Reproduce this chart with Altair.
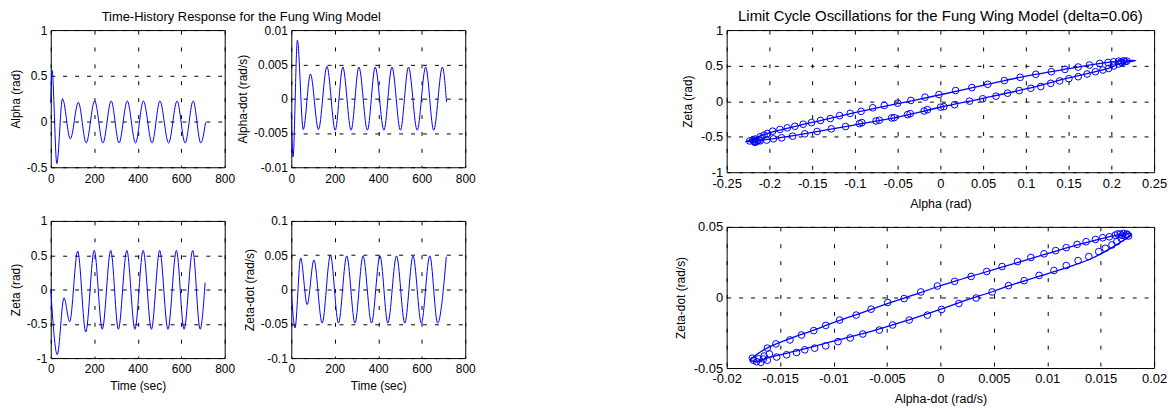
import altair as alt
import pandas as pd

FONT = "Liberation Sans"
BLUE = "#0000ff"

# ---------------- time histories ----------------
alpha_t = [0, 6, 28, 54, 90, 127, 163, 202, 240, 278, 314, 352, 390, 426, 466, 502, 542, 581, 618, 655, 690, 712]
alpha_v = [0.20, 0.56, -0.46, 0.25, -0.19, 0.21, -0.235, 0.225, -0.235, 0.225, -0.235, 0.225, -0.235, 0.225,
           -0.235, 0.225, -0.235, 0.225, -0.235, 0.225, -0.235, -0.01]

alphadot_t = [0, 8, 28, 55, 88, 125, 164, 202, 237, 275, 311, 350, 386, 426, 463, 502, 539, 579, 618, 655, 695, 714]
alphadot_v = [-0.002, -0.0085, 0.0085, -0.0045, 0.0036, -0.0045, 0.0047, -0.0046, 0.0046, -0.0046, 0.0046,
              -0.0046, 0.0046, -0.0046, 0.0046, -0.0046, 0.0046, -0.0046, 0.0046, -0.0046, 0.0046, -0.0005]

zeta_t = [0, 30, 61, 87, 124, 161, 200, 237, 276, 311, 350, 387, 425, 463, 501, 539, 578, 613, 653, 687, 710]
zeta_v = [0.0, -0.95, -0.12, -0.47, 0.56, -0.62, 0.57, -0.58, 0.57, -0.58, 0.57, -0.58, 0.57, -0.58, 0.57,
          -0.58, 0.57, -0.58, 0.57, -0.58, 0.10]

zetadot_t = [0, 17, 43, 73, 104, 142, 180, 217, 255, 293, 330, 369, 408, 444, 484, 522, 560, 598, 637, 673, 713]
zetadot_v = [0.0, -0.056, 0.046, -0.022, 0.043, -0.049, 0.050, -0.049, 0.049, -0.049, 0.049, -0.049, 0.049,
             -0.049, 0.049, -0.049, 0.049, -0.049, 0.049, -0.049, 0.048]

time_ticks = [0, 200, 400, 600, 800]

# ---------------- limit cycle: alpha vs zeta ----------------
lc1_line_x = [-0.228, -0.2, -0.15, -0.1, -0.05, 0.0, 0.05, 0.1, 0.15, 0.2, 0.2286,
              0.21, 0.2, 0.15, 0.1, 0.05, 0.0, -0.05, -0.1, -0.15, -0.2, -0.228]
lc1_line_y = [-0.572, -0.445, -0.30, -0.16, -0.035, 0.090, 0.222, 0.352, 0.456, 0.552, 0.572,
              0.53, 0.475, 0.326, 0.172, 0.04, -0.086, -0.225, -0.335, -0.44, -0.535, -0.572]

lc1_pts_x = [-0.2167, -0.2109, -0.2063, -0.2023, -0.1962, -0.1877, -0.1791, -0.1702, -0.1605, -0.1508,
             -0.1403, -0.1287, -0.1179, -0.1055, -0.0927, -0.0791, -0.0656, -0.0500, -0.0345, -0.0179,
             -0.0016, 0.0178, 0.0368, 0.0554, 0.0748, 0.0934, 0.1116, 0.1298, 0.1457, 0.1612, 0.1744,
             0.1864, 0.1961, 0.2027, 0.2085, 0.2143, 0.2182,
             -0.2156, -0.2109, -0.2031, -0.1953, -0.1857, -0.1729, -0.1586, -0.1442, -0.1276, -0.1109,
             -0.0947, -0.0919, -0.0752, -0.0714, -0.0570, -0.0540, -0.0384, -0.0353, -0.0190, -0.0151,
             0.0003, 0.0040, 0.0166, 0.0341, 0.0495, 0.0651, 0.0786, 0.0922, 0.1058, 0.1174, 0.1291,
             0.1395, 0.1503, 0.1612, 0.1716, 0.1814, 0.1902, 0.1969, 0.2027, 0.2085, 0.2123,
             -0.2230, -0.2195, -0.2180, -0.2140, -0.2120, -0.2170, 0.2160, 0.2110]
lc1_pts_y = [-0.534, -0.502, -0.479, -0.455, -0.423, -0.399, -0.376, -0.353, -0.325, -0.302,
             -0.272, -0.245, -0.204, -0.172, -0.144, -0.093, -0.060, -0.028, 0.010, 0.056,
             0.093, 0.149, 0.191, 0.237, 0.289, 0.335, 0.377, 0.414, 0.447, 0.480, 0.508,
             0.530, 0.544, 0.554, 0.563, 0.568, 0.563,
             -0.572, -0.558, -0.548, -0.530, -0.516, -0.493, -0.460, -0.427, -0.390, -0.358,
             -0.316, -0.302, -0.279, -0.269, -0.237, -0.232, -0.190, -0.176, -0.139, -0.120,
             -0.084, -0.078, -0.050, 0.000, 0.033, 0.070, 0.112, 0.149, 0.181, 0.205, 0.251,
             0.284, 0.316, 0.344, 0.382, 0.414, 0.438, 0.460, 0.494, 0.522, 0.544,
             -0.560, -0.548, -0.568, -0.560, -0.545, -0.580, 0.555, 0.550]

# ---------------- limit cycle: alpha-dot vs zeta-dot ----------------
lc2_line_x = [-0.0178, -0.0172, -0.016, -0.014, -0.012, -0.010, -0.008, -0.005, -0.002, 0.0, 0.004, 0.008,
              0.010, 0.012, 0.015, 0.017, 0.0179, 0.0176, 0.0167, 0.0154, 0.0142, 0.0123, 0.0092, 0.0065,
              0.005, 0.002, 0.0, -0.003, -0.006, -0.010, -0.013, -0.016, -0.0172, -0.0178]
lc2_line_y = [-0.0445, -0.0405, -0.0350, -0.0290, -0.0235, -0.0178, -0.0125, -0.0045, 0.003, 0.0083, 0.0175,
              0.0265, 0.031, 0.0355, 0.0415, 0.0448, 0.0450, 0.0430, 0.0383, 0.0325, 0.0278, 0.0224, 0.0149,
              0.0085, 0.0044, -0.0030, -0.0085, -0.0160, -0.0230, -0.0310, -0.0370, -0.0425, -0.0455, -0.0445]

lc2_pts_x = [-0.01619, -0.01539, -0.01408, -0.01300, -0.01185, -0.01073, -0.00943, -0.00788, -0.00648,
             -0.00493, -0.00339, -0.00183, -0.00028, 0.00133, 0.00288, 0.00434, 0.00577, 0.00722, 0.00847,
             0.00970, 0.01079, 0.01178, 0.01280, 0.01364, 0.01451, 0.01519, 0.01581, 0.01637, 0.01684,
             0.01714, 0.01745, 0.01761,
             -0.01656, -0.01532, -0.01439, -0.01346, -0.01269, -0.01176, -0.01073, -0.00958, -0.00844,
             -0.00726, -0.00571, -0.00447, -0.00292, -0.00121, 0.00012, 0.00173, 0.00335, 0.00484, 0.00638,
             0.00784, 0.00924, 0.01063, 0.01178, 0.01289, 0.01389, 0.01482, 0.01544, 0.01606, 0.01652,
             0.01693, 0.01730,
             -0.0175, -0.0172, -0.0168, -0.0170, -0.0165, -0.0160, -0.0176, -0.0162, 0.0170, 0.0175, 0.0166]
lc2_pts_y = [-0.0359, -0.0329, -0.0301, -0.0266, -0.0235, -0.0198, -0.0160, -0.0125, -0.0083,
             -0.0036, -0.0008, 0.0039, 0.0081, 0.0114, 0.0149, 0.0184, 0.0219, 0.0254, 0.0283,
             0.0309, 0.0332, 0.0353, 0.0376, 0.0395, 0.0411, 0.0423, 0.0430, 0.0442, 0.0449,
             0.0453, 0.0449, 0.0435,
             -0.0436, -0.0422, -0.0406, -0.0390, -0.0371, -0.0359, -0.0343, -0.0313, -0.0287,
             -0.0259, -0.0231, -0.0195, -0.0160, -0.0125, -0.0085, -0.0043, -0.0004, 0.0039, 0.0084,
             0.0119, 0.0156, 0.0191, 0.0226, 0.0261, 0.0290, 0.0325, 0.0348, 0.0372, 0.0395,
             0.0418, 0.0435,
             -0.0445, -0.0455, -0.0460, -0.0435, -0.0415, -0.0400, -0.0430, -0.0445, 0.0440, 0.0445, 0.0450]

XDASH = [4, 13]
YDASH = [4, 8]


def make_axis(values, title, fs, tfs, dash, lpad, tpad):
    return alt.Axis(
        values=values, title=title, labelExpr="'' + datum.value",
        grid=True, gridColor="#000000", gridDash=dash, gridWidth=1, gridOpacity=1,
        ticks=False, tickSize=0, domain=False,
        labelFont=FONT, labelFontSize=fs, labelColor="#000000", labelPadding=lpad,
        labelFlush=False, labelOverlap=False,
        titleFont=FONT, titleFontSize=tfs, titleColor="#000000", titleFontWeight="normal",
        titlePadding=tpad,
    )


def time_panel(t, v, ydom, yvals, ytitle, xtitle):
    df = pd.DataFrame({"t": t, "v": v})
    return alt.Chart(df).mark_line(color=BLUE, strokeWidth=1, interpolate="monotone").encode(
        x=alt.X("t:Q", scale=alt.Scale(domain=[0, 800], nice=False, zero=False),
                axis=make_axis(time_ticks, xtitle, 12, 12, XDASH, 6, 6)),
        y=alt.Y("v:Q", scale=alt.Scale(domain=ydom, nice=False, zero=False),
                axis=make_axis(yvals, ytitle, 12, 12, YDASH, 4, 4)),
    ).properties(width=175, height=138)


def cycle_panel(lx, ly, px, py, xdom, xvals, ydom, yvals, xtitle, ytitle, h):
    ldf = pd.DataFrame({"i": list(range(len(lx))), "x": lx, "y": ly})
    pdf = pd.DataFrame({"x": px, "y": py})
    xs = alt.Scale(domain=xdom, nice=False, zero=False)
    ys = alt.Scale(domain=ydom, nice=False, zero=False)
    xa = make_axis(xvals, xtitle, 13, 12.5, XDASH, 5, 7)
    ya = make_axis(yvals, ytitle, 13, 12, YDASH, 4, 6)
    line = alt.Chart(ldf).mark_line(color=BLUE, strokeWidth=1.3, interpolate="catmull-rom").encode(
        x=alt.X("x:Q", scale=xs, axis=xa),
        y=alt.Y("y:Q", scale=ys, axis=ya),
        order=alt.Order("i:Q"),
    )
    pts = alt.Chart(pdf).mark_point(shape="circle", filled=False, color=BLUE, size=45,
                                     strokeWidth=1, opacity=1).encode(
        x=alt.X("x:Q", scale=xs, axis=xa),
        y=alt.Y("y:Q", scale=ys, axis=ya),
    )
    return alt.layer(line, pts).properties(width=430, height=h)


p1 = time_panel(alpha_t, alpha_v, [-0.5, 1], [-0.5, 0, 0.5, 1], "Alpha (rad)", None)
p2 = time_panel(alphadot_t, alphadot_v, [-0.01, 0.01], [-0.01, -0.005, 0, 0.005, 0.01],
                "Alpha-dot (rad/s)", None)
p3 = time_panel(zeta_t, zeta_v, [-1, 1], [-1, -0.5, 0, 0.5, 1], "Zeta (rad)", "Time (sec)")
p4 = time_panel(zetadot_t, zetadot_v, [-0.1, 0.1], [-0.1, -0.05, 0, 0.05, 0.1],
                "Zeta-dot (rad/s)", "Time (sec)")

p5 = cycle_panel(lc1_line_x, lc1_line_y, lc1_pts_x, lc1_pts_y, [-0.25, 0.25],
                 [-0.25, -0.2, -0.15, -0.1, -0.05, 0, 0.05, 0.1, 0.15, 0.2, 0.25],
                 [-1, 1], [-1, -0.5, 0, 0.5, 1], "Alpha (rad)", "Zeta (rad)", 143)
p6 = cycle_panel(lc2_line_x, lc2_line_y, lc2_pts_x, lc2_pts_y, [-0.02, 0.02],
                 [-0.02, -0.015, -0.01, -0.005, 0, 0.005, 0.01, 0.015, 0.02],
                 [-0.05, 0.05], [-0.05, 0, 0.05], "Alpha-dot (rad/s)", "Zeta-dot (rad/s)", 142)

left = alt.concat(
    p1, p2, p3, p4, columns=2, spacing={"row": 29, "column": 0},
    title=alt.TitleParams(text="Time-History Response for the Fung Wing Model", font=FONT, fontSize=13,
                          fontWeight="normal", color="#000000", anchor="middle",
                          dx=-1, offset=-10.5, baseline="alphabetic"),
)
right = alt.vconcat(
    p5, p6, spacing=10,
    title=alt.TitleParams(text="Limit Cycle Oscillations for the Fung Wing Model (delta=0.06)", font=FONT,
                          fontSize=15, fontWeight="normal", color="#000000", anchor="middle",
                          dx=20, offset=-12.5, baseline="alphabetic"),
)

chart = alt.hconcat(left, right, spacing=198).properties(
    padding={"left": 0, "top": 0, "right": 0, "bottom": 0},
    background="white",
).configure_view(stroke="#000000", strokeWidth=1)

chart.save("out.html", embed_options={"renderer": "svg", "actions": False})
